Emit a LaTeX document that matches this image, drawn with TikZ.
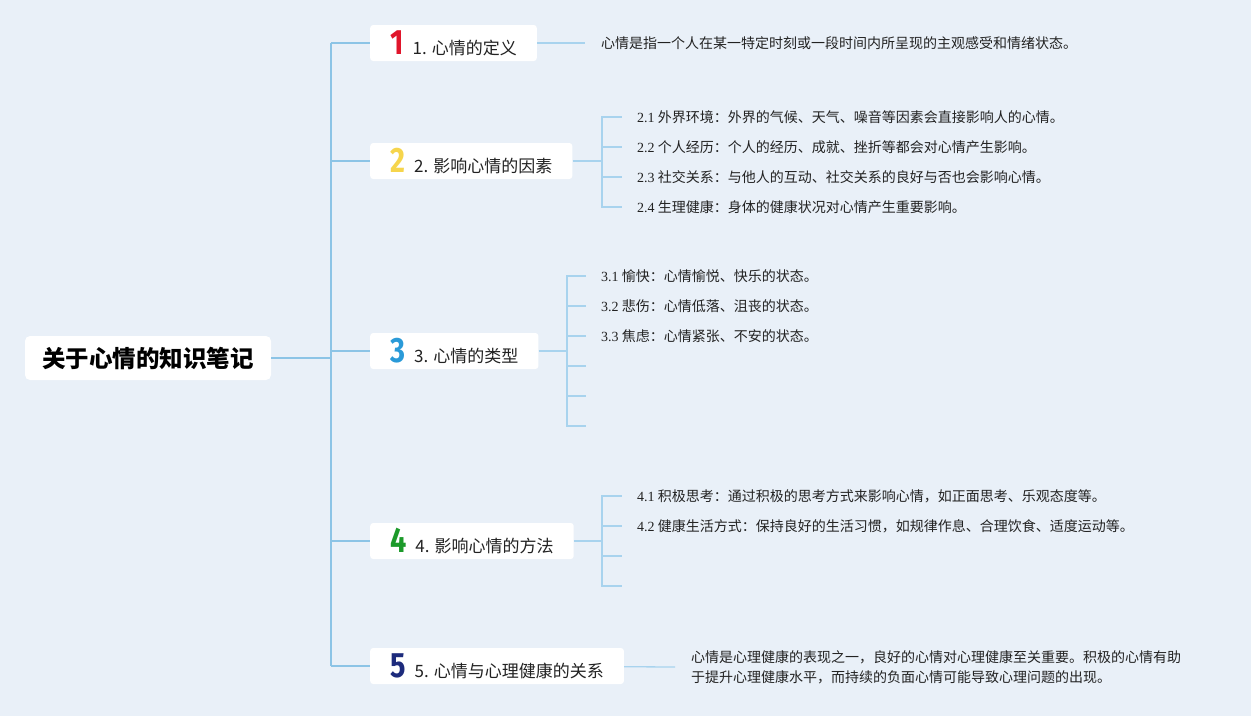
\documentclass[tikz,border=0pt]{standalone}
\usepackage{fontspec}
\usepackage{tikz}
\usetikzlibrary{positioning}
\setmainfont{Noto Sans CJK SC}
\newfontfamily\numfont{Liberation Serif}
\newfontfamily\digfont{Fira Sans}

\definecolor{bgblue}{HTML}{E9F0F8}
\definecolor{lineblue}{HTML}{8CC4E6}
\definecolor{twigblue}{HTML}{A8D3EE}
\definecolor{inkgray}{HTML}{222222}
\definecolor{numred}{HTML}{E0152B}
\definecolor{numyellow}{HTML}{F6D54C}
\definecolor{numblue}{HTML}{2A9AD8}
\definecolor{numgreen}{HTML}{1C9A2A}
\definecolor{numnavy}{HTML}{1D2B7C}

\newcommand\bignum[2]{\scalebox{0.9}[1.1]{\digfont\bfseries\fontsize{32}{32}\selectfont\color{#1}#2}\hspace{9pt}}
\newcommand\nm[1]{{\numfont #1}}

\begin{document}
\begin{tikzpicture}[
  x=1pt, y=-1pt,
  rootbox/.style={fill=white, rounded corners=5pt, minimum width=246pt, minimum height=44pt, text=black, font=\fontsize{23.5}{26}\selectfont\bfseries},
  topic/.style={fill=white, rounded corners=3pt, minimum height=36pt, inner xsep=20pt, anchor=west, text=inkgray, font=\fontsize{17}{20}\selectfont},
  leaf/.style={anchor=west, inner sep=0pt, align=left, text=inkgray, font=\fontsize{14}{20}\selectfont},
  trunk/.style={draw=lineblue, line width=1.6pt},
  twig/.style={draw=twigblue, line width=1.3pt}
  ]

\fill [bgblue] (0,0) rectangle (1251,716);
\useasboundingbox (0,0) rectangle (1251,716);

\node [rootbox] (root) at (148,358) {关于心情的知识笔记};

\coordinate (j1) at (331,43);
\coordinate (j2) at (331,161);
\coordinate (j3) at (331,351);
\coordinate (j4) at (331,541);
\coordinate (j5) at (331,666);

\node [topic] (b1) at (370,43) {\bignum{numred}{1}1. 心情的定义};
\node [topic] (b2) at (370,161) {\bignum{numyellow}{2}2. 影响心情的因素};
\node [topic] (b3) at (370,351) {\bignum{numblue}{3}3. 心情的类型};
\node [topic] (b4) at (370,541) {\bignum{numgreen}{4}4. 影响心情的方法};
\node [topic] (b5) at (370,666) {\bignum{numnavy}{5}5. 心情与心理健康的关系};

\node [leaf] (d1) at (601,43) {心情是指一个人在某一特定时刻或一段时间内所呈现的主观感受和情绪状态。};

\node [leaf] (s21) at (637,117) {\nm{2.1} 外界环境：外界的气候、天气、噪音等因素会直接影响人的心情。};
\node [leaf] (s22) at (637,147) {\nm{2.2} 个人经历：个人的经历、成就、挫折等都会对心情产生影响。};
\node [leaf] (s23) at (637,177) {\nm{2.3} 社交关系：与他人的互动、社交关系的良好与否也会影响心情。};
\node [leaf] (s24) at (637,207) {\nm{2.4} 生理健康：身体的健康状况对心情产生重要影响。};

\node [leaf] (s31) at (601,276) {\nm{3.1} 愉快：心情愉悦、快乐的状态。};
\node [leaf] (s32) at (601,306) {\nm{3.2} 悲伤：心情低落、沮丧的状态。};
\node [leaf] (s33) at (601,336) {\nm{3.3} 焦虑：心情紧张、不安的状态。};
\coordinate (e34) at (586,366);
\coordinate (e35) at (586,396);
\coordinate (e36) at (586,426);

\node [leaf] (s41) at (637,496) {\nm{4.1} 积极思考：通过积极的思考方式来影响心情，如正面思考、乐观态度等。};
\node [leaf] (s42) at (637,526) {\nm{4.2} 健康生活方式：保持良好的生活习惯，如规律作息、合理饮食、适度运动等。};
\coordinate (e43) at (622,556);
\coordinate (e44) at (622,586);

\node [leaf] (d5) at (691,667) {心情是心理健康的表现之一，良好的心情对心理健康至关重要。积极的心情有助\\于提升心理健康水平，而持续的负面心情可能导致心理问题的出现。};

\coordinate (k2) at (602,161);
\coordinate (k3) at (567,351);
\coordinate (k4) at (602,541);

\draw [trunk] (root) -- (root -| j1);
\draw [trunk] (j1) -- (j5);
\foreach \i in {1,...,5}
  \draw [trunk] (j\i) -- (b\i);

\draw [twig] (b1) -- ([xshift=-16pt]d1.west);
\draw [twig] (b5) -- ([xshift=-16pt]d5.west);

\draw [twig] (b2) -- (k2);
\foreach \i in {1,...,4}
  \draw [twig] (k2) |- ([xshift=-15pt]s2\i.west);

\draw [twig] (b3) -- (k3);
\foreach \i in {1,...,3}
  \draw [twig] (k3) |- ([xshift=-15pt]s3\i.west);
\foreach \i in {4,...,6}
  \draw [twig] (k3) |- (e3\i);

\draw [twig] (b4) -- (k4);
\foreach \i in {1,2}
  \draw [twig] (k4) |- ([xshift=-15pt]s4\i.west);
\foreach \i in {3,4}
  \draw [twig] (k4) |- (e4\i);

\end{tikzpicture}
\end{document}
